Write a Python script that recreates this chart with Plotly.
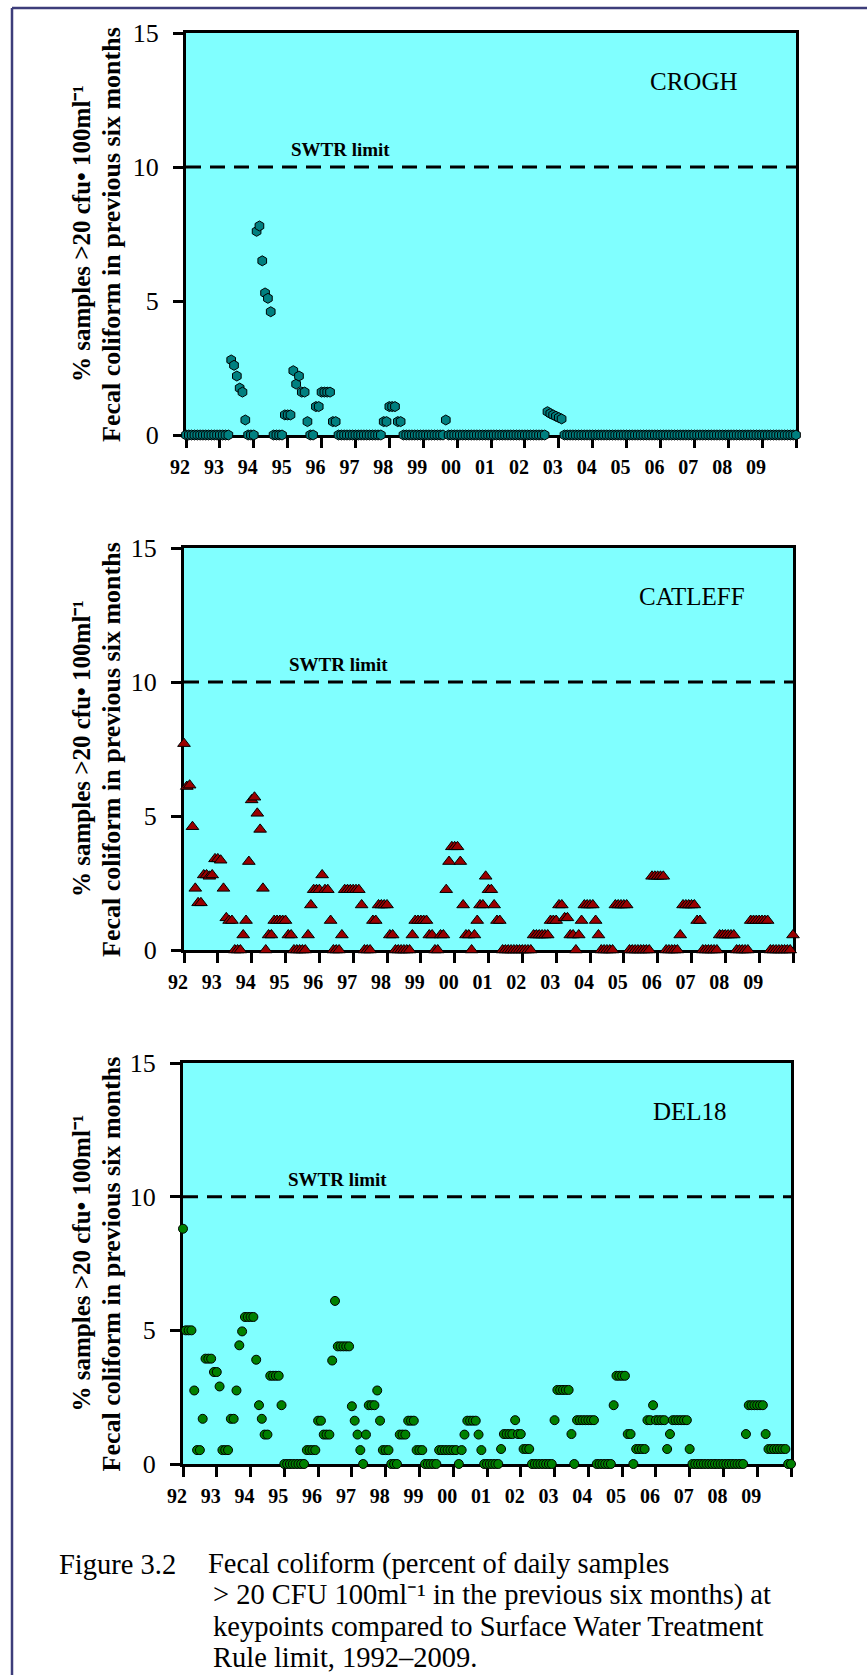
import plotly.graph_objects as go

# ---------------- data (monthly values, one row per year, Jan..Dec) ----------------
YEARS = [1992, 1993, 1994, 1995, 1996, 1997, 1998, 1999, 2000,
         2001, 2002, 2003, 2004, 2005, 2006, 2007, 2008, 2009]
END_YEAR = 2010
TICK_YEARS = [1992, 1993, 1994, 1995, 1996, 1997, 1998, 1999, 2000, 2001,
              2002, 2003, 2004, 2005, 2006, 2007, 2008, 2009]
TICK_LABELS = ["92", "93", "94", "95", "96", "97", "98", "99", "00", "01",
               "02", "03", "04", "05", "06", "07", "08", "09"]
Y_TICKS = [0, 5, 10, 15]
SWTR_LIMIT = 10

crogh = [
    [0, 0, 0, 0, 0, 0, 0, 0, 0, 0, 0, 0],                      # 1992
    [0, 0, 0, 0, 2.8, 2.6, 2.2, 1.75, 1.6, 0.56, 0, 0],         # 1993
    [0, 7.6, 7.8, 6.5, 5.3, 5.1, 4.6, 0, 0, 0, 0, 0.75],        # 1994
    [0.75, 0.75, 2.4, 1.9, 2.2, 1.6, 1.6, 0.5, 0, 0, 1.06, 1.06],  # 1995
    [1.6, 1.6, 1.6, 1.6, 0.5, 0.5, 0, 0, 0, 0, 0, 0],           # 1996
    [0, 0, 0, 0, 0, 0, 0, 0, 0, 0, 0.5, 0.5],                   # 1997
    [1.06, 1.06, 1.06, 0.5, 0.5, 0, 0, 0, 0, 0, 0, 0],          # 1998
    [0, 0, 0, 0, 0, 0, 0, 0, 0.56, 0, 0, 0],                    # 1999
    [0, 0, 0, 0, 0, 0, 0, 0, 0, 0, 0, 0],                       # 2000
    [0, 0, 0, 0, 0, 0, 0, 0, 0, 0, 0, 0],                       # 2001
    [0, 0, 0, 0, 0, 0, 0, 0, 0.87, 0.8, 0.75, 0.7],             # 2002
    [0.65, 0.6, 0, 0, 0, 0, 0, 0, 0, 0, 0, 0],                  # 2003
    [0, 0, 0, 0, 0, 0, 0, 0, 0, 0, 0, 0],                       # 2004
    [0, 0, 0, 0, 0, 0, 0, 0, 0, 0, 0, 0],                       # 2005
    [0, 0, 0, 0, 0, 0, 0, 0, 0, 0, 0, 0],                       # 2006
    [0, 0, 0, 0, 0, 0, 0, 0, 0, 0, 0, 0],                       # 2007
    [0, 0, 0, 0, 0, 0, 0, 0, 0, 0, 0, 0],                       # 2008
    [0, 0, 0, 0, 0, 0, 0, 0, 0, 0, 0, 0],                       # 2009
]
crogh_end = 0

catleff = [
    [7.7, 6.1, 6.15, 4.6, 2.3, 1.76, 1.76, 2.8, 2.8, 2.75, 2.8, 3.4],      # 1992
    [3.4, 3.35, 2.3, 1.2, 1.1, 1.1, 0, 0, 0, 0.56, 1.1, 3.3],              # 1993
    [5.6, 5.7, 5.1, 4.5, 2.3, 0, 0.56, 0.56, 1.1, 1.1, 1.1, 1.1],          # 1994
    [1.1, 0.56, 0.56, 0, 0, 0, 0, 0, 0.56, 1.68, 2.25, 2.25],              # 1995
    [2.25, 2.8, 2.25, 2.25, 1.1, 0, 0, 0, 0.56, 2.25, 2.25, 2.25],         # 1996
    [2.25, 2.25, 2.25, 1.68, 0, 0, 0, 1.1, 1.1, 1.68, 1.68, 1.68],         # 1997
    [1.68, 0.56, 0.56, 0, 0, 0, 0, 0, 0, 0.56, 1.1, 1.1],                  # 1998
    [1.1, 1.1, 1.1, 0.56, 0.56, 0, 0, 0.56, 0.56, 2.25, 3.3, 3.85],        # 1999
    [3.85, 3.85, 3.3, 1.68, 0.56, 0.56, 0, 0.56, 1.1, 1.68, 1.68, 2.75],   # 2000
    [2.25, 2.25, 1.68, 1.1, 1.1, 0, 0, 0, 0, 0, 0, 0],                     # 2001
    [0, 0, 0, 0, 0.56, 0.56, 0.56, 0.56, 0.56, 0.56, 1.1, 1.1],            # 2002
    [1.1, 1.68, 1.68, 1.2, 1.2, 0.56, 0.56, 0, 0.56, 1.1, 1.68, 1.68],     # 2003
    [1.68, 1.68, 1.1, 0.56, 0, 0, 0, 0, 0, 1.68, 1.68, 1.68],              # 2004
    [1.68, 1.68, 0, 0, 0, 0, 0, 0, 0, 0, 2.75, 2.75],                      # 2005
    [2.75, 2.75, 2.75, 0, 0, 0, 0, 0, 0.56, 1.68, 1.68, 1.68],             # 2006
    [1.68, 1.68, 1.1, 1.1, 0, 0, 0, 0, 0, 0, 0.56, 0.56],                  # 2007
    [0.56, 0.56, 0.56, 0.56, 0, 0, 0, 0, 0, 1.1, 1.1, 1.1],                # 2008
    [1.1, 1.1, 1.1, 1.1, 0, 0, 0, 0, 0, 0, 0, 0],                          # 2009
]
catleff_end = 0.56

del18 = [
    [8.8, 5.0, 5.0, 5.0, 2.75, 0.52, 0.52, 1.69, 3.94, 3.94, 3.94, 3.44],  # 1992
    [3.44, 2.9, 0.52, 0.52, 0.52, 1.69, 1.69, 2.75, 4.44, 4.96, 5.5, 5.5],  # 1993
    [5.5, 5.5, 3.9, 2.2, 1.69, 1.1, 1.1, 3.3, 3.3, 3.3, 3.3, 2.2],         # 1994
    [0, 0, 0, 0, 0, 0, 0, 0, 0.52, 0.52, 0.52, 0.52],                      # 1995
    [1.62, 1.62, 1.1, 1.1, 1.1, 3.87, 6.1, 4.4, 4.4, 4.4, 4.4, 4.4],       # 1996
    [2.16, 1.62, 1.1, 0.52, 0, 1.1, 2.2, 2.2, 2.2, 2.75, 1.62, 0.52],      # 1997
    [0.52, 0.52, 0, 0, 0, 1.1, 1.1, 1.1, 1.62, 1.62, 1.62, 0.52],          # 1998
    [0.52, 0.52, 0, 0, 0, 0, 0, 0.52, 0.52, 0.52, 0.52, 0.52],             # 1999
    [0.52, 0.52, 0, 0.52, 1.1, 1.62, 1.62, 1.62, 1.62, 1.1, 0.52, 0],      # 2000
    [0, 0, 0, 0, 0, 0.56, 1.12, 1.12, 1.12, 1.12, 1.64, 1.12],             # 2001
    [1.12, 0.56, 0.56, 0.56, 0, 0, 0, 0, 0, 0, 0, 0],                      # 2002
    [1.64, 2.77, 2.77, 2.77, 2.77, 2.77, 1.12, 0, 1.64, 1.64, 1.64, 1.64],  # 2003
    [1.64, 1.64, 1.64, 0, 0, 0, 0, 0, 0, 2.2, 3.3, 3.3],                   # 2004
    [3.3, 3.3, 1.12, 1.12, 0, 0.56, 0.56, 0.56, 0.56, 1.64, 1.64, 2.2],    # 2005
    [1.64, 1.64, 1.64, 1.64, 0.56, 1.12, 1.64, 1.64, 1.64, 1.64, 1.64, 1.64],  # 2006
    [0.56, 0, 0, 0, 0, 0, 0, 0, 0, 0, 0, 0],                               # 2007
    [0, 0, 0, 0, 0, 0, 0, 0, 1.12, 2.2, 2.2, 2.2],                         # 2008
    [2.2, 2.2, 2.2, 1.12, 0.56, 0.56, 0.56, 0.56, 0.56, 0.56, 0.56, 0],    # 2009
]
del18_end = 0

STATIONS = ["CROGH", "CATLEFF", "DEL18"]
SERIES = [crogh, catleff, del18]
SERIES_END = [crogh_end, catleff_end, del18_end]

# ---------------- styling ----------------
SERIF = "Liberation Serif"
MARKERS = [
    dict(symbol="hexagon", size=10, color="#008080", line=dict(color="#000000", width=1)),
    dict(symbol="triangle-up", size=11, color="#990000", line=dict(color="#000000", width=1)),
    dict(symbol="circle", size=9, color="#008000", line=dict(color="#000000", width=1)),
]
W, H = 867, 1675
# pixel boxes of the three plot areas: (left, right, top, bottom)
BOXES = [(186, 796, 33, 435), (184, 793, 548, 950), (183, 791, 1063, 1464)]


def monthly_xy(rows, end_value):
    xs, ys = [], []
    for yr, row in zip(YEARS, rows):
        for k, v in enumerate(row):
            xs.append(yr + k / 12.0)
            ys.append(v)
    xs.append(END_YEAR)
    ys.append(end_value)
    return xs, ys


fig = go.Figure()
annotations = []
for i, (name, rows, endv, mk, box) in enumerate(zip(STATIONS, SERIES, SERIES_END, MARKERS, BOXES)):
    ax = "" if i == 0 else str(i + 1)
    xref, yref = "x" + ax, "y" + ax
    left, right, top, bottom = box
    xs, ys = monthly_xy(rows, endv)

    # SWTR limit dashed line
    fig.add_trace(go.Scatter(
        x=[YEARS[0], END_YEAR], y=[SWTR_LIMIT, SWTR_LIMIT], mode="lines",
        line=dict(color="black", width=3, dash="15px,9px"),
        xaxis=xref, yaxis=yref, showlegend=False, hoverinfo="skip"))
    # data
    fig.add_trace(go.Scatter(
        x=xs, y=ys, mode="markers", marker=mk, cliponaxis=False,
        xaxis=xref, yaxis=yref, showlegend=False, name=name))

    xdom = [left / W, right / W]
    ydom = [1 - bottom / H, 1 - top / H]
    axis_common = dict(showline=True, linecolor="black", linewidth=3, mirror=True,
                       ticks="outside", ticklen=10, tickwidth=2.5, tickcolor="black",
                       showgrid=False, zeroline=False, layer="below traces",
                       automargin=False)
    fig.layout["xaxis" + ax] = dict(
        domain=xdom, range=[YEARS[0], END_YEAR], anchor=yref,
        tickmode="array", tickvals=TICK_YEARS, ticktext=TICK_LABELS,
        minor=dict(tickmode="array", tickvals=[END_YEAR], ticks="outside",
                   ticklen=10, tickwidth=2.5, tickcolor="black", showgrid=False),
        tickfont=dict(family=SERIF, size=20, color="black", weight="bold"),
        ticklabelshift=-6, ticklabelstandoff=2, **axis_common)
    fig.layout["yaxis" + ax] = dict(
        domain=ydom, range=[0, 15], anchor=xref,
        tickmode="array", tickvals=Y_TICKS,
        tickfont=dict(family=SERIF, size=26, color="black"),
        ticklabelstandoff=9, **axis_common)

    # station name
    annotations.append(dict(x=2007.0, y=13.2, xref=xref, yref=yref, text=name,
                            showarrow=False, xanchor="center", yanchor="middle",
                            font=dict(family=SERIF, size=25, color="black")))
    # SWTR limit label
    annotations.append(dict(x=1996.57, y=10.65, xref=xref, yref=yref, text="SWTR limit",
                            showarrow=False, xanchor="center", yanchor="middle",
                            font=dict(family=SERIF, size=19, color="black", weight="bold")))
    # y-axis titles (two rotated lines)
    ymid = 1 - ((top + bottom) / 2) / H
    annotations.append(dict(x=81 / W, y=ymid, xref="paper", yref="paper",
                            text="% samples >20 cfu• 100ml⁻¹", textangle=-90,
                            showarrow=False, xanchor="center", yanchor="middle",
                            font=dict(family=SERIF, size=25, color="black", weight="bold")))
    annotations.append(dict(x=111 / W, y=ymid, xref="paper", yref="paper",
                            text="Fecal coliform in previous six months", textangle=-90,
                            showarrow=False, xanchor="center", yanchor="middle",
                            font=dict(family=SERIF, size=26, color="black", weight="bold")))

# caption
CAP_FONT = dict(family=SERIF, size=28.5, color="black")
caption = [
    (58, 1564, "Figure 3.2"),
    (207, 1564, "Fecal coliform (percent of daily samples"),
    (212, 1595, "> 20 CFU 100ml⁻¹ in the previous six months) at"),
    (212, 1626, "keypoints compared to Surface Water Treatment"),
    (212, 1657, "Rule limit, 1992–2009."),
]
for cx, cy, txt in caption:
    annotations.append(dict(x=cx / W, y=1 - cy / H, xref="paper", yref="paper", text=txt,
                            showarrow=False, xanchor="left", yanchor="middle", font=CAP_FONT,
                            borderpad=0))

# outer frame (top and left lines)
shapes = [
    dict(type="line", xref="paper", yref="paper", x0=12 / W, x1=1, y0=1 - 8 / H, y1=1 - 8 / H,
         line=dict(color="#3d3d7a", width=2.5)),
    dict(type="line", xref="paper", yref="paper", x0=12 / W, x1=12 / W, y0=0, y1=1 - 8 / H,
         line=dict(color="#3d3d7a", width=2.5)),
]

fig.update_layout(
    template="none",
    width=W, height=H, autosize=False,
    margin=dict(l=0, r=0, t=0, b=0, pad=0, autoexpand=False),
    paper_bgcolor="white", plot_bgcolor="#80FFFF",
    annotations=annotations, shapes=shapes, showlegend=False,
)

fig.write_html("out.html", config={"displayModeBar": False},
               post_script="document.body.style.margin='0';document.body.style.overflow='hidden';")
